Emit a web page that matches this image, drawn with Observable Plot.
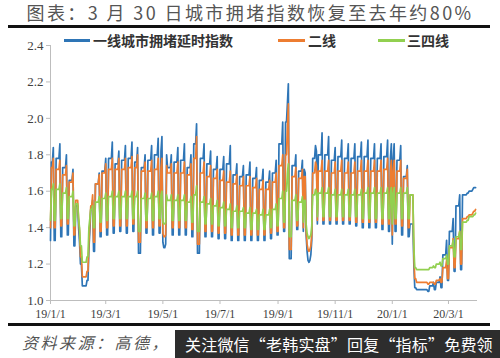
<!DOCTYPE html>
<html><head><meta charset="utf-8">
<script src="https://cdn.jsdelivr.net/npm/d3@7"></script>
<script src="https://cdn.jsdelivr.net/npm/@observablehq/plot@0.6"></script>
<style>
html,body{margin:0;padding:0;background:#fff;}
body{width:500px;height:358px;position:relative;overflow:hidden;font-family:"Noto Sans CJK SC","Noto Sans",sans-serif;}
#title{position:absolute;left:0;top:0;width:500px;text-align:center;font-size:18px;line-height:24px;color:#555;letter-spacing:2.4px;white-space:nowrap;}
.rule{position:absolute;left:8px;width:482px;height:3px;background:#111;}
#chart{position:absolute;left:0;top:30px;}
.sw{position:absolute;height:3px;}
.lg{position:absolute;font-size:14px;line-height:18px;font-weight:bold;color:#333;white-space:nowrap;}
#source{position:absolute;left:22px;top:331px;font-size:16px;line-height:22px;color:#555;font-style:italic;letter-spacing:2.5px;white-space:nowrap;}
#wm{position:absolute;left:175px;top:330px;width:325px;height:28px;background:#2d2d2d;color:#fff;font-size:16px;line-height:28px;white-space:nowrap;padding-left:10px;box-sizing:border-box;letter-spacing:0.2px;}
</style></head>
<body>
<div id="title">图表：3 月 30 日城市拥堵指数恢复至去年约80%</div>
<div class="rule" style="top:25px"></div>
<div id="chart"></div>
<div class="sw" style="left:64px;top:39px;width:26px;background:#2E75B6"></div>
<div class="lg" style="left:93px;top:31px">一线城市拥堵延时指数</div>
<div class="sw" style="left:278px;top:39px;width:27px;background:#ED7D31"></div>
<div class="lg" style="left:308px;top:31px">二线</div>
<div class="sw" style="left:378px;top:39px;width:27px;background:#92D050"></div>
<div class="lg" style="left:407px;top:31px">三四线</div>
<div class="rule" style="top:323px"></div>
<div id="source">资料来源：高德，</div>
<div id="wm">关注微信“老韩实盘”回复“指标”免费领</div>
<script>
// Weekly readings (week 0 starts Monday 2018-12-31): Mon–Thu level, Friday peak, weekend level
const blueMid = [1.76,1.78,1.73,1.66,1.52,1.08,1.50,1.64,1.71,1.78,1.75,1.77,1.78,1.76,1.73,1.77,1.80,1.82,1.73,1.76,1.77,1.73,1.86,1.78,1.75,1.72,1.72,1.75,1.69,1.68,1.69,1.67,1.66,1.65,1.70,1.86,1.98,1.74,1.71,1.70,1.78,1.80,1.80,1.77,1.79,1.78,1.78,1.79,1.79,1.78,1.78,1.79,1.78,1.77,1.68,1.42,1.06,1.06,1.08,1.10,1.25,1.38,1.52,1.58,1.60,1.62];
const bluePeak = [1.84,1.86,1.80,1.72,1.47,1.08,1.55,1.70,1.78,1.87,1.82,1.85,1.87,1.84,1.80,1.85,1.89,1.90,1.80,1.84,1.86,1.80,1.97,1.86,1.82,1.79,1.79,1.85,1.75,1.74,1.76,1.73,1.72,1.71,1.77,1.98,2.02,1.80,1.77,1.70,1.85,1.92,1.90,1.84,1.88,1.86,1.86,1.87,1.88,1.86,1.86,1.88,1.86,1.85,1.74,1.40,1.06,1.06,1.10,1.13,1.33,1.45,1.58,1.58,1.61,1.62];
const blueWeekend = [1.33,1.35,1.36,1.30,1.20,1.11,1.27,1.35,1.36,1.37,1.38,1.37,1.38,1.26,1.37,1.36,1.37,1.31,1.36,1.36,1.36,1.35,1.26,1.35,1.35,1.34,1.34,1.33,1.33,1.33,1.33,1.33,1.33,1.34,1.36,1.38,1.23,1.39,1.38,1.22,1.42,1.42,1.42,1.42,1.42,1.42,1.41,1.40,1.40,1.40,1.39,1.38,1.38,1.36,1.35,1.07,1.06,1.05,1.06,1.07,1.11,1.16,1.17,1.59,1.62,1.62];
const orangeMid = [1.73,1.72,1.69,1.65,1.55,1.13,1.52,1.64,1.70,1.72,1.72,1.72,1.73,1.73,1.71,1.71,1.72,1.73,1.70,1.70,1.70,1.69,1.78,1.70,1.68,1.67,1.66,1.65,1.64,1.63,1.63,1.62,1.61,1.61,1.65,1.74,1.80,1.68,1.67,1.68,1.70,1.71,1.71,1.70,1.71,1.70,1.70,1.71,1.71,1.71,1.71,1.72,1.71,1.71,1.67,1.58,1.10,1.10,1.10,1.11,1.18,1.29,1.34,1.45,1.47,1.50];
const orangePeak = [1.78,1.77,1.74,1.70,1.50,1.13,1.58,1.69,1.75,1.78,1.78,1.78,1.79,1.80,1.76,1.77,1.78,1.78,1.75,1.76,1.76,1.75,1.90,1.76,1.74,1.72,1.71,1.71,1.69,1.68,1.68,1.67,1.66,1.66,1.70,1.80,1.86,1.73,1.72,1.68,1.76,1.77,1.77,1.76,1.77,1.76,1.76,1.77,1.77,1.77,1.77,1.78,1.77,1.77,1.72,1.56,1.10,1.10,1.10,1.12,1.22,1.34,1.38,1.45,1.48,1.50];
const orangeWeekend = [1.40,1.41,1.42,1.36,1.24,1.16,1.32,1.38,1.40,1.41,1.41,1.41,1.42,1.32,1.40,1.40,1.41,1.36,1.40,1.40,1.40,1.39,1.31,1.38,1.38,1.37,1.37,1.36,1.36,1.36,1.36,1.36,1.36,1.37,1.38,1.40,1.28,1.41,1.40,1.28,1.44,1.44,1.44,1.44,1.44,1.44,1.43,1.43,1.43,1.43,1.42,1.42,1.42,1.41,1.40,1.12,1.10,1.09,1.09,1.10,1.12,1.18,1.20,1.46,1.49,1.50];
const greenMid = [1.61,1.61,1.59,1.57,1.53,1.21,1.50,1.54,1.56,1.57,1.57,1.57,1.57,1.57,1.56,1.56,1.57,1.58,1.55,1.55,1.55,1.54,1.58,1.54,1.53,1.52,1.51,1.50,1.49,1.49,1.48,1.48,1.47,1.47,1.50,1.56,1.60,1.55,1.54,1.55,1.58,1.59,1.59,1.58,1.58,1.58,1.58,1.58,1.59,1.59,1.59,1.59,1.59,1.59,1.59,1.58,1.17,1.17,1.18,1.20,1.23,1.30,1.35,1.43,1.46,1.48];
const greenPeak = [1.64,1.64,1.62,1.60,1.50,1.21,1.52,1.57,1.59,1.60,1.60,1.60,1.60,1.60,1.59,1.59,1.60,1.60,1.58,1.58,1.58,1.57,1.63,1.57,1.56,1.55,1.54,1.53,1.52,1.51,1.51,1.50,1.50,1.50,1.53,1.60,1.64,1.58,1.57,1.55,1.61,1.62,1.62,1.61,1.61,1.61,1.61,1.61,1.62,1.62,1.62,1.62,1.62,1.62,1.62,1.57,1.17,1.17,1.19,1.21,1.25,1.33,1.38,1.43,1.46,1.48];
const greenWeekend = [1.44,1.45,1.45,1.41,1.30,1.24,1.40,1.43,1.44,1.45,1.45,1.45,1.45,1.38,1.44,1.44,1.45,1.42,1.44,1.44,1.44,1.43,1.38,1.42,1.42,1.41,1.41,1.40,1.40,1.40,1.39,1.39,1.39,1.40,1.41,1.43,1.35,1.44,1.43,1.35,1.46,1.46,1.46,1.46,1.46,1.46,1.46,1.45,1.45,1.45,1.45,1.45,1.45,1.45,1.45,1.18,1.17,1.17,1.18,1.19,1.20,1.24,1.28,1.44,1.47,1.48];

// Holidays, make-up workdays and spikes
const specialDates = ["2019-01-01","2019-01-31","2019-02-01","2019-02-11","2019-02-12","2019-04-04","2019-04-05","2019-04-30","2019-05-01","2019-05-02","2019-05-03","2019-05-04","2019-05-05","2019-06-06","2019-06-07","2019-09-11","2019-09-12","2019-09-13","2019-09-29","2019-10-01","2019-10-02","2019-10-03","2019-10-04","2019-10-05","2019-10-06","2019-10-07","2019-10-12","2019-12-31","2020-01-01","2020-01-24"];
const specialBlue   = [1.33,1.40,1.32,1.28,1.38,1.84,1.26,1.90,1.32,1.29,1.29,1.31,1.80,1.97,1.26,2.08,2.19,1.23,1.72,1.36,1.27,1.22,1.21,1.22,1.25,1.33,1.82,1.86,1.31,1.20];
const specialOrange = [1.40,1.45,1.38,1.32,1.42,1.80,1.32,1.78,1.37,1.35,1.35,1.36,1.74,1.90,1.31,1.95,2.08,1.28,1.68,1.38,1.31,1.28,1.27,1.28,1.30,1.36,1.74,1.77,1.36,1.26];
const specialGreen  = [1.44,1.45,1.40,1.40,1.45,1.60,1.38,1.60,1.43,1.42,1.42,1.43,1.58,1.63,1.38,1.70,1.75,1.35,1.55,1.42,1.37,1.35,1.34,1.35,1.36,1.41,1.60,1.62,1.42,1.30];

const seriesNames = ["一线城市拥堵延时指数","二线","三四线"];
const seriesColors = ["#2E75B6","#ED7D31","#92D050"];
const yTicks = [1.0,1.2,1.4,1.6,1.8,2.0,2.2,2.4];
const xTickDates = ["2019-01-01","2019-03-01","2019-05-01","2019-07-01","2019-09-01","2019-11-01","2020-01-01","2020-03-01"];
const xTickLabels = ["19/1/1","19/3/1","19/5/1","19/7/1","19/9/1","19/11/1","20/1/1","20/3/1"];

// Build the daily table from the readings
const DAY = 864e5;
const weekStart = Date.UTC(2018,11,31);
const first = Date.UTC(2019,0,1), last = Date.UTC(2020,2,30);
const special = new Map(specialDates.map((s,i)=>[Date.parse(s+"T00:00:00Z"), i]));
const mids = [blueMid, orangeMid, greenMid], peaks = [bluePeak, orangePeak, greenPeak], weekends = [blueWeekend, orangeWeekend, greenWeekend];
const specials = [specialBlue, specialOrange, specialGreen];
const rows = [];
for (let t = first; t <= last; t += DAY) {
  const k = Math.round((t - weekStart)/DAY);
  const w = Math.floor(k/7), dow = k % 7;
  seriesNames.forEach((name, s) => {
    let val = dow >= 5 ? weekends[s][w] : dow === 4 ? peaks[s][w] : mids[s][w];
    if (special.has(t)) val = specials[s][special.get(t)];
    rows.push({date: new Date(t), value: val, series: name});
  });
}

const tickDates = xTickDates.map(s => new Date(s+"T00:00:00Z"));
const labelMap = new Map(tickDates.map((d,i)=>[+d, xTickLabels[i]]));
const x0 = new Date(Date.UTC(2019,0,1)), x1 = new Date(Date.UTC(2020,3,1));

const chart = Plot.plot({
  width: 500, height: 292,
  marginLeft: 50, marginRight: 23, marginTop: 15, marginBottom: 22,
  style: {fontFamily: '"Liberation Serif","Times New Roman",serif', background: "transparent", color: "#404040"},
  x: {type: "utc", domain: [x0, x1], label: null},
  y: {domain: [1.0, 2.4], label: null},
  marks: [
    Plot.ruleY([1.0], {stroke: "#bdbdbd", strokeWidth: 1}),
    Plot.ruleX([x0], {stroke: "#bdbdbd", strokeWidth: 1}),
    Plot.axisY({ticks: yTicks, tickFormat: d => d.toFixed(1), tickSize: 4, tickPadding: 3, stroke: "#bdbdbd", fill: "#404040", fontSize: 13, label: null}),
    Plot.axisX({ticks: tickDates, tickFormat: d => labelMap.get(+d), tickSize: 4, tickPadding: 5, stroke: "#bdbdbd", fill: "#404040", fontSize: 12, label: null}),
    ...seriesNames.map((name, s) => Plot.lineY(rows.filter(r => r.series === name), {x: "date", y: "value", stroke: seriesColors[s], strokeWidth: 1.7}))
  ]
});
document.getElementById("chart").appendChild(chart);
</script>
</body></html>
